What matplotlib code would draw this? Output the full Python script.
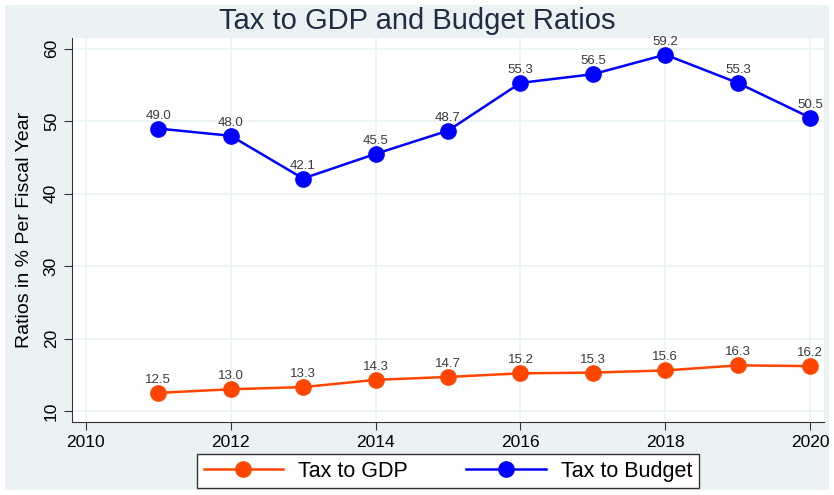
import numpy as np
import matplotlib.pyplot as plt

plt.rcParams['font.family'] = ['Liberation Sans', 'DejaVu Sans']

years = [2011, 2012, 2013, 2014, 2015, 2016, 2017, 2018, 2019, 2020]
tax_gdp = [12.5, 13.0, 13.3, 14.3, 14.7, 15.2, 15.3, 15.6, 16.3, 16.2]
tax_budget = [49.0, 48.0, 42.1, 45.5, 48.7, 55.3, 56.5, 59.2, 55.3, 50.5]
xticks = [2010, 2012, 2014, 2016, 2018, 2020]
yticks = [10, 20, 30, 40, 50, 60]

bg = '#eaf2f3'
fig = plt.figure(figsize=(8.34, 4.95), dpi=100)
fig.patch.set_facecolor('white')
# light outer panel, stata style
fig.patches.append(plt.Rectangle((0.006, 0.01), 0.988, 0.98, transform=fig.transFigure,
                                 facecolor=bg, edgecolor='none', zorder=-1))
ax = fig.add_axes([72/834, 1-422/495, (824-72)/834, (422-38)/495])
ax.set_facecolor('white')

ax.plot(years, tax_gdp, '-o', color='#ff4500', lw=1.8, ms=11, label='Tax to GDP')
ax.plot(years, tax_budget, '-o', color='#0000ff', lw=1.8, ms=11, label='Tax to Budget')
for x, y in zip(years, tax_gdp):
    ax.annotate(f'{y:.1f}', (x, y), xytext=(0, 5), textcoords='offset points',
                ha='center', va='bottom', fontsize=9.5, color='#3a3a3a')
for x, y in zip(years, tax_budget):
    ax.annotate(f'{y:.1f}', (x, y), xytext=(0, 5), textcoords='offset points',
                ha='center', va='bottom', fontsize=9.5, color='#3a3a3a')

ax.set_xlim(2009.81, 2020.19)
ax.set_ylim(8.48, 61.5)
ax.set_xticks(xticks)
ax.set_yticks(yticks)
ax.grid(True, color=bg, lw=1.2)
ax.set_axisbelow(True)
for s in ['top', 'right']:
    ax.spines[s].set_visible(False)
for s in ['left', 'bottom']:
    ax.spines[s].set_color('#333333')
ax.tick_params(axis='both', labelsize=12.5, color='#333333', length=6)
plt.setp(ax.get_yticklabels(), rotation=90, va='center')
ax.set_ylabel('Ratios in % Per Fiscal Year', fontsize=14, labelpad=8)

fig.suptitle('Tax to GDP and Budget Ratios', fontsize=21, color='#1e2d44', y=0.985)

leg = fig.legend(loc='lower center', bbox_to_anchor=(0.537, -0.008), ncol=2, fontsize=15.5,
                 frameon=True, fancybox=False, edgecolor='#333333', handlelength=3.7,
                 columnspacing=2.7, borderpad=0.3, handletextpad=0.7, framealpha=1)
leg.get_frame().set_linewidth(1)

fig.savefig('out.png', dpi=100, facecolor=fig.get_facecolor())
